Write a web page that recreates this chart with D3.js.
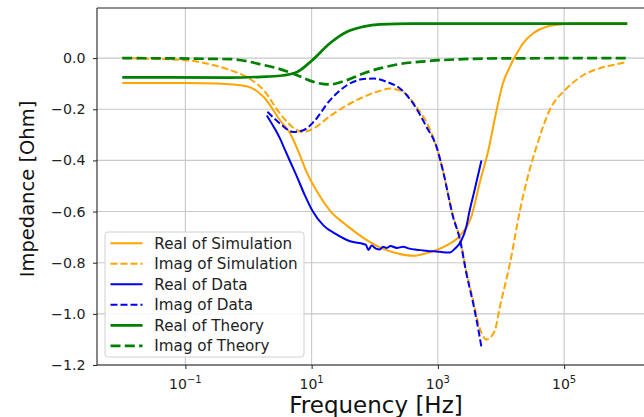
<!DOCTYPE html>
<html><head><meta charset="utf-8">
<script src="https://cdn.jsdelivr.net/npm/d3@7"></script>
<style>
body{margin:0;background:#fff;}
svg{display:block;font-family:"DejaVu Sans",sans-serif;}
</style></head>
<body><svg id="chart" width="644" height="417"></svg>
<script>
// Frequencies are given as log10(Hz) exponents; values in Ohm
const simRealExp = [-2,-1,-0.5,-0.03,0.24,0.5,0.66,0.79,0.92,1.08,1.29,1.56,1.82,2.08,2.35,2.61,2.87,3.13,3.35,3.53,3.66,3.8,3.93,4.03,4.14,4.22,4.35,4.51,4.72,4.98,5.2,6];
const simReal    = [-0.097,-0.097,-0.099,-0.11,-0.152,-0.243,-0.295,-0.365,-0.445,-0.52,-0.596,-0.655,-0.703,-0.74,-0.763,-0.773,-0.759,-0.733,-0.694,-0.62,-0.49,-0.36,-0.204,-0.099,-0.034,0.005,0.058,0.097,0.123,0.132,0.135,0.135];

const simImagExp = [-2,-1,-0.56,-0.29,0,0.24,0.5,0.77,0.86,1.03,1.29,1.56,1.82,2.08,2.24,2.45,2.66,2.87,2.98,3.08,3.24,3.35,3.45,3.56,3.66,3.77,3.9,3.98,4.14,4.3,4.45,4.56,4.77,5.04,5.3,5.56,5.83,6];
const simImag    = [0,-0.008,-0.027,-0.047,-0.078,-0.125,-0.217,-0.282,-0.289,-0.275,-0.227,-0.184,-0.152,-0.128,-0.119,-0.132,-0.19,-0.276,-0.348,-0.44,-0.616,-0.706,-0.831,-0.949,-1.054,-1.1,-1.067,-0.975,-0.805,-0.596,-0.44,-0.348,-0.204,-0.119,-0.067,-0.04,-0.024,-0.015];

const dataRealExp = [0.29,0.4,0.5,0.58,0.67,0.77,0.89,1.01,1.19,1.4,1.61,1.82,1.86,1.9,1.95,2.02,2.08,2.13,2.19,2.25,2.35,2.45,2.55,2.66,2.77,2.87,2.98,3.08,3.19,3.27,3.37,3.45,3.5,3.58,3.69];
const dataReal    = [-0.224,-0.269,-0.315,-0.36,-0.41,-0.465,-0.535,-0.596,-0.655,-0.69,-0.716,-0.727,-0.73,-0.75,-0.733,-0.745,-0.748,-0.738,-0.742,-0.735,-0.742,-0.738,-0.745,-0.749,-0.752,-0.755,-0.756,-0.759,-0.76,-0.745,-0.714,-0.66,-0.6,-0.518,-0.4];

const dataImagExp = [0.3,0.5,0.71,0.87,1.03,1.29,1.56,1.82,1.98,2.19,2.4,2.61,2.82,2.98,3.08,3.24,3.35,3.45,3.56,3.64,3.69];
const dataImag    = [-0.21,-0.256,-0.289,-0.282,-0.25,-0.165,-0.106,-0.082,-0.08,-0.093,-0.119,-0.178,-0.269,-0.348,-0.44,-0.62,-0.71,-0.84,-0.96,-1.06,-1.13];

const theoryRealExp = [-2,-0.29,0.2,0.5,0.77,1.01,1.29,1.56,1.82,2.08,2.6,6];
const theoryReal    = [-0.075,-0.076,-0.073,-0.069,-0.054,-0.008,0.058,0.103,0.123,0.132,0.135,0.135];

const theoryImagExp = [-2,-0.29,0.24,0.5,0.77,1.03,1.29,1.56,1.82,2.08,2.35,2.87,3.4,4,6];
const theoryImag    = [0,-0.004,-0.027,-0.043,-0.067,-0.093,-0.103,-0.086,-0.06,-0.04,-0.025,-0.011,-0.004,-0.001,0];

const xTickExps = [-1,1,3,5];
const yTicks = [0.0,-0.2,-0.4,-0.6,-0.8,-1.0,-1.2];
const seriesNames = ["Real of Simulation","Imag of Simulation","Real of Data","Imag of Data","Real of Theory","Imag of Theory"];

const svg = d3.select("#chart");
const L=97, R=652.5, T=8, B=365;
const x = d3.scaleLog().domain([Math.pow(10,-2.4), Math.pow(10,6.4)]).range([L,R]);
const y = d3.scaleLinear().domain([-1.2,0.196]).range([B,T]);

const series = [
  {exp:simRealExp, val:simReal, color:"#ffa500", w:2, dash:null},
  {exp:simImagExp, val:simImag, color:"#ffa500", w:2, dash:"7,3"},
  {exp:dataRealExp, val:dataReal, color:"#0000ee", w:2, dash:null},
  {exp:dataImagExp, val:dataImag, color:"#0000ee", w:2, dash:"7,3"},
  {exp:theoryRealExp, val:theoryReal, color:"#008000", w:2.7, dash:null},
  {exp:theoryImagExp, val:theoryImag, color:"#008000", w:2.7, dash:"10,4.3"}
];

// grid
const g = svg.append("g");
g.selectAll("line.vg").data(xTickExps).join("line")
  .attr("x1",d=>x(Math.pow(10,d))).attr("x2",d=>x(Math.pow(10,d)))
  .attr("y1",T).attr("y2",B).attr("stroke","#c8c8c8").attr("stroke-width",1.1);
g.selectAll("line.hg").data(yTicks).join("line")
  .attr("x1",L).attr("x2",R).attr("y1",d=>y(d)).attr("y2",d=>y(d))
  .attr("stroke","#c8c8c8").attr("stroke-width",1.1);

svg.append("clipPath").attr("id","pc").append("rect").attr("x",L).attr("y",T).attr("width",R-L).attr("height",B-T);
const line = d3.line().x(d=>x(Math.pow(10,d[0]))).y(d=>y(d[1])).curve(d3.curveMonotoneX);
const pg = svg.append("g").attr("clip-path","url(#pc)");
series.forEach(s=>{
  const pts = s.exp.map((e,i)=>[e,s.val[i]]);
  pg.append("path").attr("d",line(pts)).attr("fill","none").attr("stroke",s.color)
    .attr("stroke-width",s.w).attr("stroke-dasharray",s.dash).attr("stroke-linejoin","round");
});

// axes
const yAxis = d3.axisLeft(y).tickValues(yTicks).tickSize(4).tickPadding(7.5)
  .tickFormat(d=>d3.format(".1f")(d).replace("-","\u2212"));
const ya = svg.append("g").attr("transform",`translate(${L},0)`).call(yAxis);
ya.select(".domain").remove();
ya.selectAll("text").attr("font-size",14.2).attr("fill","#222").attr("font-family","DejaVu Sans");
ya.selectAll("line").attr("stroke","#222");

const xAxis = d3.axisBottom(x).tickValues(xTickExps.map(e=>Math.pow(10,e))).tickSize(4).tickFormat("");
const xa = svg.append("g").attr("transform",`translate(0,${B})`).call(xAxis);
xa.select(".domain").remove();
xa.selectAll("line").attr("stroke","#222");
xTickExps.forEach(e=>{
  const t = svg.append("text").attr("x",x(Math.pow(10,e))).attr("y",388.5).attr("text-anchor","middle")
    .attr("font-size",14).attr("fill","#222");
  t.append("tspan").text("10");
  t.append("tspan").attr("dy",-5.5).attr("font-size",10).text(String(e).replace("-","\u2212"));
});

// spines
svg.append("line").attr("x1",L).attr("x2",L).attr("y1",T).attr("y2",B).attr("stroke","#222").attr("stroke-width",1.1);
svg.append("line").attr("x1",L).attr("x2",R).attr("y1",B).attr("y2",B).attr("stroke","#222").attr("stroke-width",1.1);
svg.append("line").attr("x1",L).attr("x2",R).attr("y1",T).attr("y2",T).attr("stroke","#222").attr("stroke-width",1.1);
svg.append("line").attr("x1",R).attr("x2",R).attr("y1",T).attr("y2",B).attr("stroke","#222").attr("stroke-width",1.1);

// labels
svg.append("text").attr("x",376).attr("y",412.5).attr("text-anchor","middle").attr("font-size",23).attr("fill","#111").text("Frequency [Hz]");
svg.append("text").attr("transform","translate(33.5,189) rotate(-90)").attr("text-anchor","middle").attr("font-size",19.5).attr("fill","#111").text("Impedance [Ohm]");

// legend
const lg = svg.append("g");
lg.append("rect").attr("x",105).attr("y",232).attr("width",199).attr("height",125).attr("rx",3)
  .attr("fill","#fff").attr("fill-opacity",0.85).attr("stroke","#d0d0d0").attr("stroke-width",1);
seriesNames.forEach((n,i)=>{
  const cy = 243.3 + i*20.5;
  const s = series[i];
  lg.append("line").attr("x1",110.5).attr("x2",142.5).attr("y1",cy).attr("y2",cy)
    .attr("stroke",s.color).attr("stroke-width",s.w).attr("stroke-dasharray",s.dash);
  lg.append("text").attr("x",154.3).attr("y",cy+5.2).attr("font-size",15.2).attr("fill","#222").text(n);
});
</script></body></html>
